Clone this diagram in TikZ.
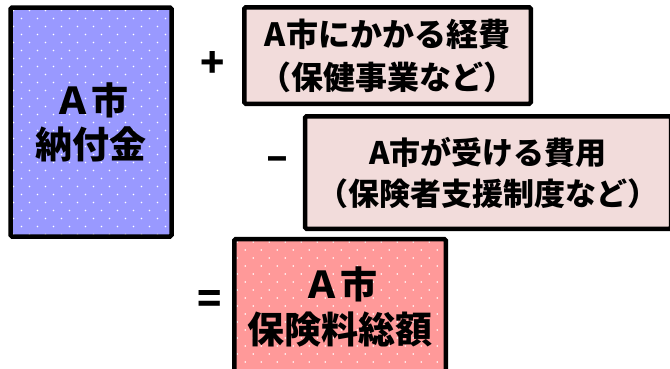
\documentclass[tikz,border=0pt]{standalone}
\usepackage{fontspec}
\newfontfamily\jp{Noto Sans CJK JP}
\definecolor{boxblue}{HTML}{9999FF}
\definecolor{boxpale}{HTML}{F2DCDB}
\definecolor{boxred}{HTML}{FF9999}
\tikzset{
  box/.style={draw=black, line width=4.5pt, rounded corners=1.5pt, inner sep=0pt,
    align=center, font=\jp\bfseries},
  dotted box/.style={box, fill=#1,
    path picture={
      \coordinate (nw) at (path picture bounding box.north west);
      \foreach \r [evaluate=\r as \off using {mod(\r,2)*8+3}] in {0,...,30}
        \foreach \c in {0,...,14}
          \fill[white] ([shift={(\c*16+\off,\r*8+3)}]nw) circle (0.95pt);
    }},
  sign/.style={font=\jp\bfseries\fontsize{40}{40}\selectfont, inner sep=0pt}
}
\begin{document}
\begin{tikzpicture}[x=1pt,y=-1pt]
\useasboundingbox (0,0) rectangle (670,368);
\node[dotted box=boxblue, minimum width=161pt, minimum height=229pt,
  font=\jp\bfseries\fontsize{37}{44}\selectfont] (nofu) at (91,122) {Ａ市\\納付金};
\node[box, fill=boxpale, minimum width=286.5pt, minimum height=96.5pt,
  font=\jp\bfseries\fontsize{32}{43}\selectfont] (keihi) at (387.5,55.5)
  {A市にかかる経費\\（保健事業など）};
\node[box, fill=boxpale, minimum width=366pt, minimum height=112.5pt,
  font=\jp\bfseries\fontsize{31}{41}\selectfont] (hiyo) at (488,172.5)
  {A市が受ける費用\\（保険者支援制度など）};
\node[dotted box=boxred, minimum width=211.5pt, minimum height=136pt,
  font=\jp\bfseries\fontsize{37}{45}\selectfont] (sogaku) at (340,307)
  {Ａ市\\保険料総額};
\node[sign] (plus) at (213,64) {+};
\node[sign] (minus) at (277,164) {–};
\node[sign] (eq) at (210,302) {=};
\end{tikzpicture}
\end{document}
